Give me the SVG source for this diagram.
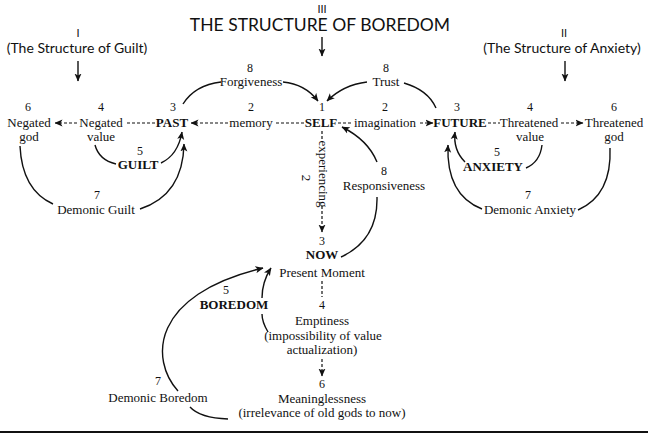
<svg xmlns="http://www.w3.org/2000/svg" width="648" height="434" viewBox="0 0 648 434">
<defs>
<marker id="ah" viewBox="0 0 8 8" refX="7.5" refY="4" markerWidth="8" markerHeight="8" markerUnits="userSpaceOnUse" orient="auto">
<path d="M0,0.5 L8,4 L0,7.5 L2,4 z" fill="#111"/>
</marker>
<style>
text{font-family:"Liberation Serif","Times New Roman",serif;font-size:13px;fill:#111;text-anchor:middle}
.b{font-weight:bold}
.k{font-size:12px}
.h{font-family:Lato,"Open Sans",sans-serif}
.t{font-size:17.5px}
.s{font-size:14px}
.n{font-size:11px}
.c{fill:none;stroke:#111;stroke-width:1.4}
.d{fill:none;stroke:#111;stroke-width:1.2;stroke-dasharray:3 2}
.a{marker-end:url(#ah)}
</style>
</defs>
<rect width="648" height="434" fill="#fff"/>
<line x1="0" y1="432" x2="648" y2="432" stroke="#111" stroke-width="2"/>

<g id="title-boredom">
<text class="h n" x="322" y="13">III</text>
<text class="h t" x="320" y="31">THE STRUCTURE OF BOREDOM</text>
</g>
<g id="title-guilt">
<text class="h n" x="78" y="37">I</text>
<text class="h s" x="77" y="53">(The Structure of Guilt)</text>
</g>
<g id="title-anxiety">
<text class="h n" x="564" y="37">II</text>
<text class="h s" x="562" y="53">(The Structure of Anxiety)</text>
</g>

<g id="negated-god"><text class="k" x="28" y="111">6</text><text x="29" y="127">Negated</text><text x="29" y="141">god</text></g>
<g id="negated-value"><text class="k" x="101" y="111">4</text><text x="101" y="127">Negated</text><text x="101" y="141">value</text></g>
<g id="past"><text class="k" x="173" y="111">3</text><text class="b" x="172" y="127">PAST</text></g>
<g id="self"><text class="k" x="322" y="111">1</text><text class="b" x="321" y="127">SELF</text></g>
<g id="future"><text class="k" x="457" y="111">3</text><text class="b" x="460" y="127">FUTURE</text></g>
<g id="threatened-value"><text class="k" x="530" y="111">4</text><text x="529" y="127">Threatened</text><text x="530" y="141">value</text></g>
<g id="threatened-god"><text class="k" x="614" y="111">6</text><text x="614" y="127">Threatened</text><text x="614" y="141">god</text></g>
<g id="forgiveness"><text class="k" x="250" y="72">8</text><text x="251" y="86">Forgiveness</text></g>
<g id="trust"><text class="k" x="386" y="72">8</text><text x="386" y="86">Trust</text></g>
<g id="responsiveness"><text class="k" x="384" y="175">8</text><text x="384" y="190">Responsiveness</text></g>
<g id="guilt"><text class="k" x="140" y="155">5</text><text class="b" x="138" y="169">GUILT</text></g>
<g id="anxiety"><text class="k" x="497" y="156">5</text><text class="b" x="493" y="171">ANXIETY</text></g>
<g id="demonic-guilt"><text class="k" x="97" y="199">7</text><text x="96" y="214">Demonic Guilt</text></g>
<g id="demonic-anxiety"><text class="k" x="528" y="199">7</text><text x="530" y="214">Demonic Anxiety</text></g>
<g id="now"><text class="k" x="322" y="245">3</text><text class="b" x="322" y="259">NOW</text><text x="322" y="277">Present  Moment</text></g>
<g id="boredom"><text class="k" x="226" y="294">5</text><text class="b" x="234" y="309">BOREDOM</text></g>
<g id="emptiness"><text class="k" x="322" y="309">4</text><text x="322" y="325">Emptiness</text><text x="323" y="340">(impossibility of value</text><text x="322" y="354">actualization)</text></g>
<g id="meaninglessness"><text class="k" x="322" y="388">6</text><text x="322" y="403">Meaninglessness</text><text x="322" y="417">(irrelevance of old gods to now)</text></g>
<g id="demonic-boredom"><text class="k" x="158" y="385">7</text><text x="158" y="402">Demonic Boredom</text></g>

<g id="connectors">
<line class="c a" x1="322" y1="37" x2="322" y2="56"/>
<line class="c a" x1="78" y1="61" x2="78" y2="81"/>
<line class="c a" x1="565" y1="61" x2="565" y2="81"/>

<line class="d a" x1="77" y1="123" x2="55" y2="123"/>
<line class="d" x1="127" y1="123" x2="156" y2="123"/>
<line class="d" x1="304" y1="123" x2="274" y2="123"/>
<text class="k" x="251" y="111">2</text><text x="251" y="127">memory</text>
<line class="d a" x1="228" y1="123" x2="191" y2="123"/>
<line class="d" x1="338" y1="123" x2="352" y2="123"/>
<text class="k" x="385" y="111">2</text><text x="385" y="127">imagination</text>
<line class="d a" x1="420" y1="123" x2="433" y2="123"/>
<line class="d" x1="488" y1="123" x2="500" y2="123"/>
<line class="d a" x1="561" y1="123" x2="583" y2="123"/>

<path class="c" d="M95,145 Q99,160 116,164"/>
<path class="c a" d="M161,163 Q178,155 182,132"/>
<path class="c a" d="M140,209 Q183,195 184,144"/>
<path class="c" d="M20,146 Q22,190 53,204"/>

<path class="c" d="M542,145 Q540,162 526,168"/>
<path class="c a" d="M465,162 Q453,150 455,132"/>
<path class="c a" d="M482,209 Q446,195 448,145"/>
<path class="c" d="M610,148 Q612,195 578,210"/>

<path class="c" d="M183,104 Q195,85 221,82"/>
<path class="c a" d="M283,82 Q305,84 318,101"/>
<path class="c a" d="M367,82 Q343,85 327,101"/>
<path class="c" d="M404,83 Q428,90 436,108"/>
<path class="c a" d="M377,162 Q368,140 342,127"/>
<path class="c" d="M377,197 Q378,240 341,257"/>

<line class="d" x1="322" y1="131" x2="322" y2="142"/>
<text transform="translate(318.5,174) rotate(90)" font-size="12">experiencing</text>
<text transform="translate(302,178) rotate(90)" font-size="12">2</text>
<line class="d a" x1="322" y1="206" x2="322" y2="232"/>

<line class="d" x1="322" y1="281" x2="322" y2="297"/>
<line class="d a" x1="322" y1="359" x2="322" y2="376"/>

<path class="c a" d="M268,332 Q262,322 262,314 M262,298 Q262,282 271,268"/>
<path class="c a" d="M178,391 C150,360 150,295 263,268"/>
<path class="c" d="M190,407 Q200,418 228,419"/>
</g>
</svg>
